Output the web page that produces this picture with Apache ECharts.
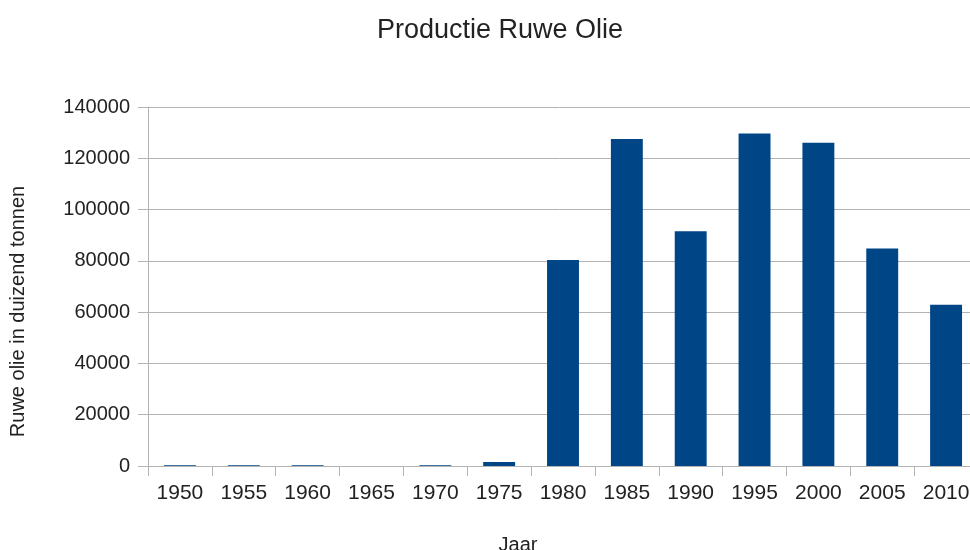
<!DOCTYPE html>
<html>
<head>
<meta charset="utf-8">
<script src="https://cdn.jsdelivr.net/npm/echarts@6/dist/echarts.min.js"></script>
<style>
  html, body { margin: 0; padding: 0; background: #fff; overflow: hidden; }
  #chart { width: 970px; height: 550px; }
</style>
</head>
<body>
<div id="chart"></div>
<script>
// Ruwe olie productie per jaar (duizend tonnen)
const jaren = ['1950', '1955', '1960', '1965', '1970', '1975', '1980', '1985', '1990', '1995', '2000', '2005', '2010'];
const productie = [300, 300, 300, 0, 300, 1600, 80300, 127500, 91500, 129700, 126100, 84800, 62900];
const yTicks = [0, 20000, 40000, 60000, 80000, 100000, 120000, 140000];

const font = 'Liberation Sans, Arial, sans-serif';
const chart = echarts.init(document.getElementById('chart'));
chart.setOption({
  animation: false,
  backgroundColor: '#ffffff',
  title: {
    text: 'Productie Ruwe Olie',
    left: 495,
    textAlign: 'center',
    top: 12,
    textStyle: { fontFamily: font, fontSize: 27, fontWeight: 'normal', color: '#222' }
  },
  grid: { left: 148, top: 107, bottom: 84, right: -8, containLabel: false, outerBoundsMode: 'none' },
  xAxis: {
    type: 'category',
    data: jaren,
    name: 'Jaar',
    nameLocation: 'middle',
    nameGap: 69,
    nameTextStyle: { fontFamily: font, fontSize: 20, color: '#222', padding: [0, 90, 0, 0] },
    axisLine: { lineStyle: { color: '#b3b3b3', width: 1 } },
    axisTick: { show: true, length: 10, alignWithLabel: false, lineStyle: { color: '#b3b3b3' } },
    axisLabel: { fontFamily: font, fontSize: 21, color: '#222', margin: 17 }
  },
  yAxis: {
    type: 'value',
    min: yTicks[0],
    max: yTicks[yTicks.length - 1],
    interval: 20000,
    name: 'Ruwe olie in duizend tonnen',
    nameLocation: 'middle',
    nameRotate: 90,
    nameGap: 120,
    nameTextStyle: { fontFamily: font, fontSize: 20, color: '#222', padding: [0, 50, 0, 0] },
    axisLine: { show: true, lineStyle: { color: '#b3b3b3', width: 1 } },
    axisTick: { show: true, length: 10, lineStyle: { color: '#b3b3b3' } },
    axisLabel: { fontFamily: font, fontSize: 20, color: '#222', margin: 18, formatter: v => String(v) },
    splitLine: { lineStyle: { color: '#b3b3b3', width: 1 } }
  },
  series: [{
    type: 'bar',
    data: productie,
    barWidth: '50%',
    itemStyle: { color: '#004586' }
  }]
});
</script>
</body>
</html>
